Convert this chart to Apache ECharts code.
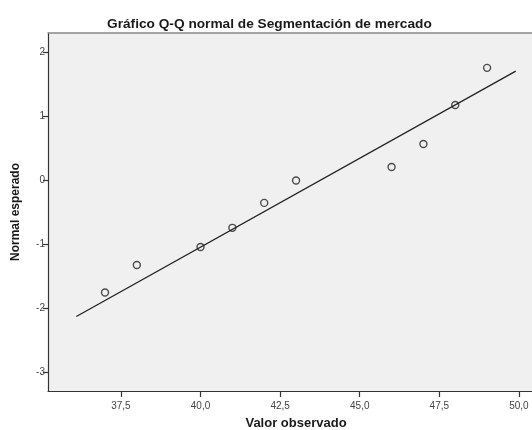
<!DOCTYPE html>
<html>
<head>
<meta charset="utf-8">
<script src="https://cdn.jsdelivr.net/npm/echarts@6/dist/echarts.min.js"></script>
<style>html,body{margin:0;padding:0;background:#fff}#c{width:532px;height:430px}</style>
</head>
<body>
<div id="c"></div>
<script>
const observed = [37, 38, 40, 41, 42, 43, 46, 47, 48, 49];
const expectedNormal = [-1.75, -1.32, -1.04, -0.74, -0.35, 0.0, 0.21, 0.57, 1.18, 1.76];
const lineX = [36.10, 49.90];
const lineY = [-2.125, 1.709];
const xTicks = [37.5, 40.0, 42.5, 45.0, 47.5, 50.0];
const yTicks = [-3, -2, -1, 0, 1, 2];

const fmtComma = v => Number(v).toFixed(1).replace('.', ',');
const chart = echarts.init(document.getElementById('c'), null, {renderer: 'canvas'});
const font = 'Arial, "Liberation Sans", sans-serif';
chart.setOption({
  animation: false,
  backgroundColor: '#ffffff',
  title: {
    text: 'Gráfico Q-Q normal de Segmentación de mercado',
    left: 102, top: 12,
    textStyle: {fontFamily: font, fontSize: 13.7, fontWeight: 'bold', color: '#1a1a1a'}
  },
  grid: {left: 48, top: 33, right: 0, bottom: 39, outerBoundsMode: 'none', containLabel: false, show: true, backgroundColor: '#f0f0f0', borderWidth: 0},
  xAxis: [{
    type: 'value', min: 35.21, max: 50.41, position: 'bottom',
    name: 'Valor observado', nameLocation: 'middle', nameGap: 26,
    nameTextStyle: {fontFamily: font, fontSize: 13, fontWeight: 'bold', color: '#1a1a1a', padding: [0, 0, 0, 12]},
    axisLine: {show: true, onZero: false, lineStyle: {color: '#333', width: 1.2}},
    axisTick: {show: true, inside: false, length: 6, customValues: xTicks, lineStyle: {color: '#333', width: 1.2}},
    axisLabel: {customValues: xTicks, formatter: fmtComma, fontFamily: font, fontSize: 10, color: '#444', margin: 10},
    splitLine: {show: false}
  }, {
    type: 'value', min: 35.21, max: 50.41, position: 'top',
    axisLine: {show: true, onZero: false, lineStyle: {color: '#888', width: 1.5}},
    axisTick: {show: false}, axisLabel: {show: false}, splitLine: {show: false}
  }],
  yAxis: {
    type: 'value', min: -3.29, max: 2.305,
    name: 'Normal esperado', nameLocation: 'middle', nameGap: 26, nameRotate: 90,
    nameTextStyle: {fontFamily: font, fontSize: 12, fontWeight: 'bold', color: '#1a1a1a'},
    axisLine: {show: true, onZero: false, lineStyle: {color: '#333', width: 1.2}},
    axisTick: {show: true, inside: false, length: 5, customValues: yTicks, lineStyle: {color: '#333', width: 1.2}},
    axisLabel: {customValues: yTicks, fontFamily: font, fontSize: 10, color: '#444', margin: 3},
    splitLine: {show: false}
  },
  series: [{
    type: 'line',
    data: lineX.map((x, i) => [x, lineY[i]]),
    symbol: 'none',
    lineStyle: {color: '#222', width: 1.3},
    silent: true
  }, {
    type: 'scatter',
    data: observed.map((x, i) => [x, expectedNormal[i]]),
    symbol: 'circle', symbolSize: 7,
    itemStyle: {color: 'rgba(0,0,0,0)', borderColor: '#222', borderWidth: 1.4}
  }]
});
</script>
</body>
</html>
